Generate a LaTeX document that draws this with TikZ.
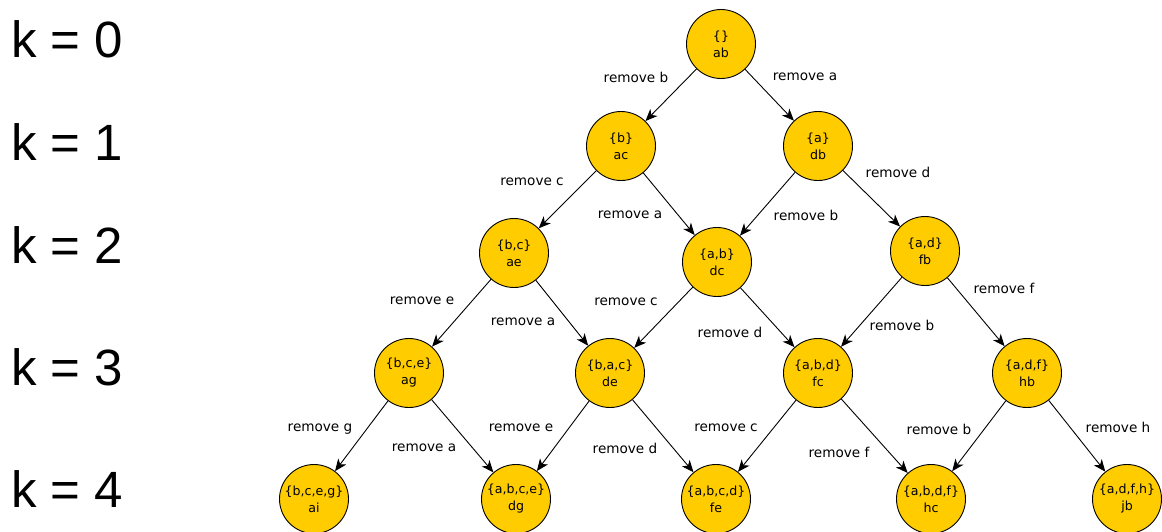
\documentclass[tikz,border=0pt]{standalone}
\usepackage{fontspec}
\setmainfont{DejaVu Sans}
\newfontfamily\klabelfont{Liberation Sans}
\usetikzlibrary{arrows.meta}
\definecolor{stategold}{HTML}{FFCC00}
\tikzset{
  state/.style={circle, draw=black, line width=0.9pt, fill=stategold, minimum size=69pt,
    inner sep=0pt, align=center, font=\fontsize{12.6}{17}\selectfont},
  move/.style={draw=black, line width=0.9pt, -{Stealth[length=12pt,width=10pt,inset=3.5pt]}},
  movelabel/.style={inner sep=0pt, font=\fontsize{13.6}{15}\selectfont},
  levellabel/.style={anchor=base west, inner sep=0pt, font=\klabelfont\fontsize{51}{55}\selectfont}
}
\begin{document}
\begin{tikzpicture}[x=1pt,y=-1pt]
\useasboundingbox (0,0) rectangle (1162,531);
% level labels
\node[levellabel] (k0) at (11,57) {k = 0};
\node[levellabel] (k1) at (11,160) {k = 1};
\node[levellabel] (k2) at (11,263) {k = 2};
\node[levellabel] (k3) at (11,385) {k = 3};
\node[levellabel] (k4) at (11,507) {k = 4};
% states
\node[state] (ab) at (721,44) {\{\}\\ab};
\node[state] (ac) at (621,146) {\{b\}\\ac};
\node[state] (db) at (818,146) {\{a\}\\db};
\node[state] (ae) at (514,253) {\{b,c\}\\ae};
\node[state] (dc) at (717,262) {\{a,b\}\\dc};
\node[state] (fb) at (925,251) {\{a,d\}\\fb};
\node[state] (ag) at (409,373) {\{b,c,e\}\\ag};
\node[state] (de) at (610,373) {\{b,a,c\}\\de};
\node[state] (fc) at (818,373) {\{a,b,d\}\\fc};
\node[state] (hb) at (1027,373) {\{a,d,f\}\\hb};
\node[state] (ai) at (314,499) {\{b,c,e,g\}\\ai};
\node[state] (dg) at (516,499) {\{a,b,c,e\}\\dg};
\node[state] (fe) at (716,499) {\{a,b,c,d\}\\fe};
\node[state] (hc) at (931,499) {\{a,b,d,f\}\\hc};
\node[state] (jb) at (1127,499) {\{a,d,f,h\}\\jb};
% moves
\draw[move] (ab) -- (ac);
\draw[move] (ab) -- (db);
\draw[move] (ac) -- (ae);
\draw[move] (ac) -- (dc);
\draw[move] (db) -- (dc);
\draw[move] (db) -- (fb);
\draw[move] (ae) -- (ag);
\draw[move] (ae) -- (de);
\draw[move] (dc) -- (de);
\draw[move] (dc) -- (fc);
\draw[move] (fb) -- (fc);
\draw[move] (fb) -- (hb);
\draw[move] (ag) -- (ai);
\draw[move] (ag) -- (dg);
\draw[move] (de) -- (dg);
\draw[move] (de) -- (fe);
\draw[move] (fc) -- (fe);
\draw[move] (fc) -- (hc);
\draw[move] (hb) -- (hc);
\draw[move] (hb) -- (jb);
% move labels
\node[movelabel] (l1) at (636,77) {remove b};
\node[movelabel] (l2) at (805,77) {remove a};
\node[movelabel] (l3) at (532,182) {remove c};
\node[movelabel] (l4) at (630,215) {remove a};
\node[movelabel] (l5) at (806,215) {remove b};
\node[movelabel] (l6) at (898,172) {remove d};
\node[movelabel] (l7) at (422,301) {remove e};
\node[movelabel] (l8) at (523,322) {remove a};
\node[movelabel] (l9) at (626,302) {remove c};
\node[movelabel] (l10) at (730,332) {remove d};
\node[movelabel] (l11) at (902,325) {remove b};
\node[movelabel] (l12) at (1004,288) {remove f};
\node[movelabel] (l13) at (320,429) {remove g};
\node[movelabel] (l14) at (424,448) {remove a};
\node[movelabel] (l15) at (521,428) {remove e};
\node[movelabel] (l16) at (625,448) {remove d};
\node[movelabel] (l17) at (726,428) {remove c};
\node[movelabel] (l18) at (839,452) {remove f};
\node[movelabel] (l19) at (939,429) {remove b};
\node[movelabel] (l20) at (1118,427) {remove h};
\end{tikzpicture}
\end{document}
